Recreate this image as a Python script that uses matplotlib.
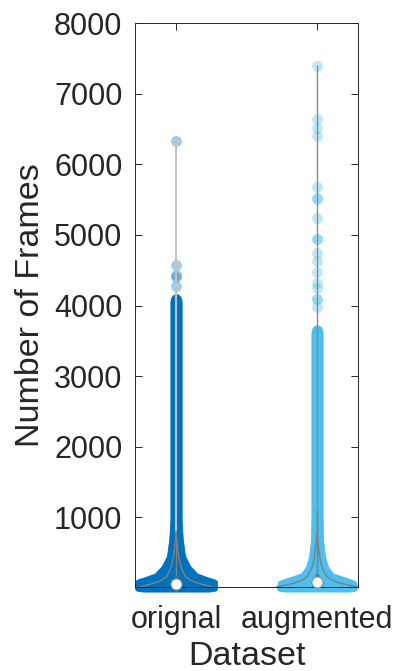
import matplotlib
matplotlib.use('Agg')
import matplotlib.pyplot as plt

plt.rcParams['font.family'] = ['Liberation Sans', 'DejaVu Sans']

# categories and colours
datasets = ['orignal', 'augmented']
colors = ['#0072BD', '#4DBEEE']

# outer edge of the dense point cloud (frames, half width in x units)
orig_cloud_v = [-50, -40, -25, 0, 98, 125, 150, 207, 316, 457, 693, 960, 4060, 4110, 4140, 4160]
orig_cloud_w = [0.234, 0.273, 0.287, 0.291, 0.291, 0.270, 0.227, 0.149, 0.099, 0.064, 0.048, 0.040, 0.040, 0.035, 0.025, 0.011]
aug_cloud_v = [-50, -40, -25, 0, 90, 113, 160, 207, 302, 443, 679, 1000, 3620, 3670, 3700, 3718]
aug_cloud_w = [0.227, 0.266, 0.280, 0.284, 0.277, 0.255, 0.184, 0.113, 0.078, 0.057, 0.043, 0.040, 0.040, 0.035, 0.025, 0.011]

# sparse points above the dense part
orig_points = [4272, 4408, 4436, 4573, 6330]
aug_points = [3983, 4096, 4096, 4252, 4323, 4473, 4629, 4738, 4940, 4946,
              5234, 5510, 5520, 5682, 6399, 6512, 6635, 7390]

# kernel density outline (frames, half width)
orig_kde_v = [18, 40, 70, 113, 160, 255, 350, 443, 560, 679, 800]
orig_kde_w = [0.255, 0.213, 0.156, 0.101, 0.067, 0.043, 0.028, 0.019, 0.011, 0.005, 0.0]
aug_kde_v = [18, 40, 70, 113, 160, 255, 350, 443, 560, 679, 800]
aug_kde_w = [0.284, 0.227, 0.163, 0.106, 0.071, 0.043, 0.028, 0.019, 0.011, 0.005, 0.0]

# summary statistics
medians = [61, 84]
q1 = [20, 25]
q3 = [180, 200]
upper_whisker = [800, 1100]
maxima = [6330, 7390]

fig = plt.figure(figsize=(3.97, 6.71), dpi=100)
ax = fig.add_axes([0.340, 0.1252, 0.562, 0.8405])

clouds = [(orig_cloud_v, orig_cloud_w), (aug_cloud_v, aug_cloud_w)]
kdes = [(orig_kde_v, orig_kde_w), (aug_kde_v, aug_kde_w)]
points = [orig_points, aug_points]
line_cols = ['#c2c2c2', '#8a8a8a']
line_w = [1.5, 1.0]

for i, x0 in enumerate([1, 2]):
    cv, cw = clouds[i]
    ax.fill_betweenx(cv, [x0 - w for w in cw], [x0 + w for w in cw],
                     color=colors[i], lw=0.6, zorder=2, clip_on=False)
    ax.scatter([x0] * len(points[i]), points[i], s=62, color=colors[i],
               alpha=0.35, lw=0, zorder=2)
    kv, kw = kdes[i]
    # line from where the density vanishes up to the maximum
    ax.plot([x0, x0], [kv[-1], maxima[i]], color=line_cols[i], lw=line_w[i], zorder=3)
    ax.plot([x0, x0], [0, upper_whisker[i]], color='#808080', lw=1.0, zorder=3)
    ax.plot([x0 - w for w in kw], kv, color='#808080', lw=1.0, zorder=3)
    ax.plot([x0 + w for w in kw], kv, color='#808080', lw=1.0, zorder=3)
    ax.plot([x0, x0], [q1[i], q3[i]], color='#6a6a6a', lw=2.5, zorder=4,
            solid_capstyle='butt')
    ax.plot([x0], [medians[i]], 'o', ms=8, mfc='white', mec='#8a8a8a', mew=0.8,
            zorder=5, clip_on=False)

ax.set_xlim(0.709, 2.291)
ax.set_ylim(15, 8000)
ax.set_xticks([1, 2])
ax.set_xticklabels(datasets)
ax.set_yticks(range(1000, 8001, 1000))

ax.tick_params(direction='in', length=5, width=0.7, colors='#262626',
               top=True, right=True, labelsize=22)
ax.tick_params(axis='y', pad=9)
ax.tick_params(axis='x', pad=13)
for s in ax.spines.values():
    s.set_linewidth(0.7)
    s.set_color('#262626')

ax.set_xlabel('Dataset', fontsize=24.5, color='#262626', labelpad=4)
ax.set_ylabel('Number of Frames', fontsize=24.5, color='#262626', labelpad=6)

fig.savefig('out.png', dpi=100)
